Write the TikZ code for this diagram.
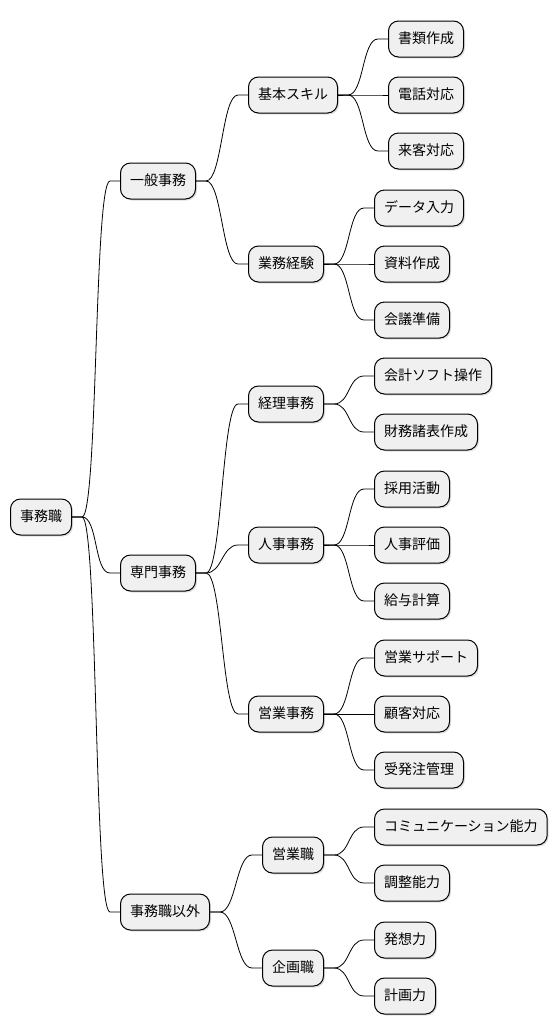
\documentclass[tikz,border=0pt]{standalone}
\usepackage{fontspec}
\setmainfont{Noto Sans CJK JP}
\usetikzlibrary{positioning, shadows}
\tikzset{
MindNode/.style  ={rectangle, rounded corners=10pt, draw=black, line width=1pt,
                   fill=black!6, anchor=west,
                   font=\fontsize{14pt}{16pt}\selectfont,
                   inner xsep=9.5pt, inner ysep=0pt,
                   minimum height=36pt, text height=11pt, text depth=2pt,
                   drop shadow={shadow xshift=1.5pt, shadow yshift=-1.5pt, opacity=0.25}},
MindEdgeStyle/.style ={line width=0.8pt},
Branch/.style={to path={
                     -- ++(10pt,0) .. controls +(16pt,0) and +(-16pt,0) .. ([xshift=-10pt]\tikztotarget) -- (\tikztotarget)}},
}

\begin{document}
\begin{tikzpicture}[x=1pt, y=-1pt]
\useasboundingbox (0,0) rectangle (558,1034);
\begin{scope}[every node/.style={MindNode}]  % nodes
\node (root) at (10,517) {事務職};

\node (ippan)  at (120,181) {一般事務};
\node (senmon) at (120,573) {専門事務};
\node (igai)   at (120,912) {事務職以外};

\node (kihon)  at (248,95)  {基本スキル};
\node (gyomu)  at (248,264) {業務経験};
\node (keiri)  at (248,404) {経理事務};
\node (jinji)  at (248,545) {人事事務};
\node (eigyoj) at (248,714) {営業事務};
\node (eigyo)  at (262,855) {営業職};
\node (kikaku) at (262,968) {企画職};

\node (shorui)  at (388,39)  {書類作成};
\node (denwa)   at (388,95)  {電話対応};
\node (raikyaku) at (388,151) {来客対応};
\node (data)    at (374,208) {データ入力};
\node (shiryo)  at (374,264) {資料作成};
\node (kaigi)   at (374,320) {会議準備};
\node (soft)    at (374,376) {会計ソフト操作};
\node (zaimu)   at (374,432) {財務諸表作成};
\node (saiyo)   at (374,489) {採用活動};
\node (hyoka)   at (374,545) {人事評価};
\node (kyuyo)   at (374,601) {給与計算};
\node (support) at (374,658) {営業サポート};
\node (kokyaku) at (374,714) {顧客対応};
\node (juhatchu) at (374,770) {受発注管理};
\node (comm)    at (374,827) {コミュニケーション能力};
\node (chosei)  at (374,883) {調整能力};
\node (hasso)   at (374,940) {発想力};
\node (keikaku) at (374,996) {計画力};
\end{scope}

\begin{scope}[MindEdgeStyle]  % edges
\draw (root.east) to[Branch] (ippan.west);
\draw (root.east) to[Branch] (senmon.west);
\draw (root.east) to[Branch] (igai.west);

\draw (ippan.east) to[Branch] (kihon.west);
\draw (ippan.east) to[Branch] (gyomu.west);
\draw (senmon.east) to[Branch] (keiri.west);
\draw (senmon.east) to[Branch] (jinji.west);
\draw (senmon.east) to[Branch] (eigyoj.west);
\draw (igai.east) to[Branch] (eigyo.west);
\draw (igai.east) to[Branch] (kikaku.west);

\draw (kihon.east) to[Branch] (shorui.west);
\draw (kihon.east) to[Branch] (denwa.west);
\draw (kihon.east) to[Branch] (raikyaku.west);
\draw (gyomu.east) to[Branch] (data.west);
\draw (gyomu.east) to[Branch] (shiryo.west);
\draw (gyomu.east) to[Branch] (kaigi.west);
\draw (keiri.east) to[Branch] (soft.west);
\draw (keiri.east) to[Branch] (zaimu.west);
\draw (jinji.east) to[Branch] (saiyo.west);
\draw (jinji.east) to[Branch] (hyoka.west);
\draw (jinji.east) to[Branch] (kyuyo.west);
\draw (eigyoj.east) to[Branch] (support.west);
\draw (eigyoj.east) to[Branch] (kokyaku.west);
\draw (eigyoj.east) to[Branch] (juhatchu.west);
\draw (eigyo.east) to[Branch] (comm.west);
\draw (eigyo.east) to[Branch] (chosei.west);
\draw (kikaku.east) to[Branch] (hasso.west);
\draw (kikaku.east) to[Branch] (keikaku.west);
\end{scope}
\end{tikzpicture}
\end{document}
